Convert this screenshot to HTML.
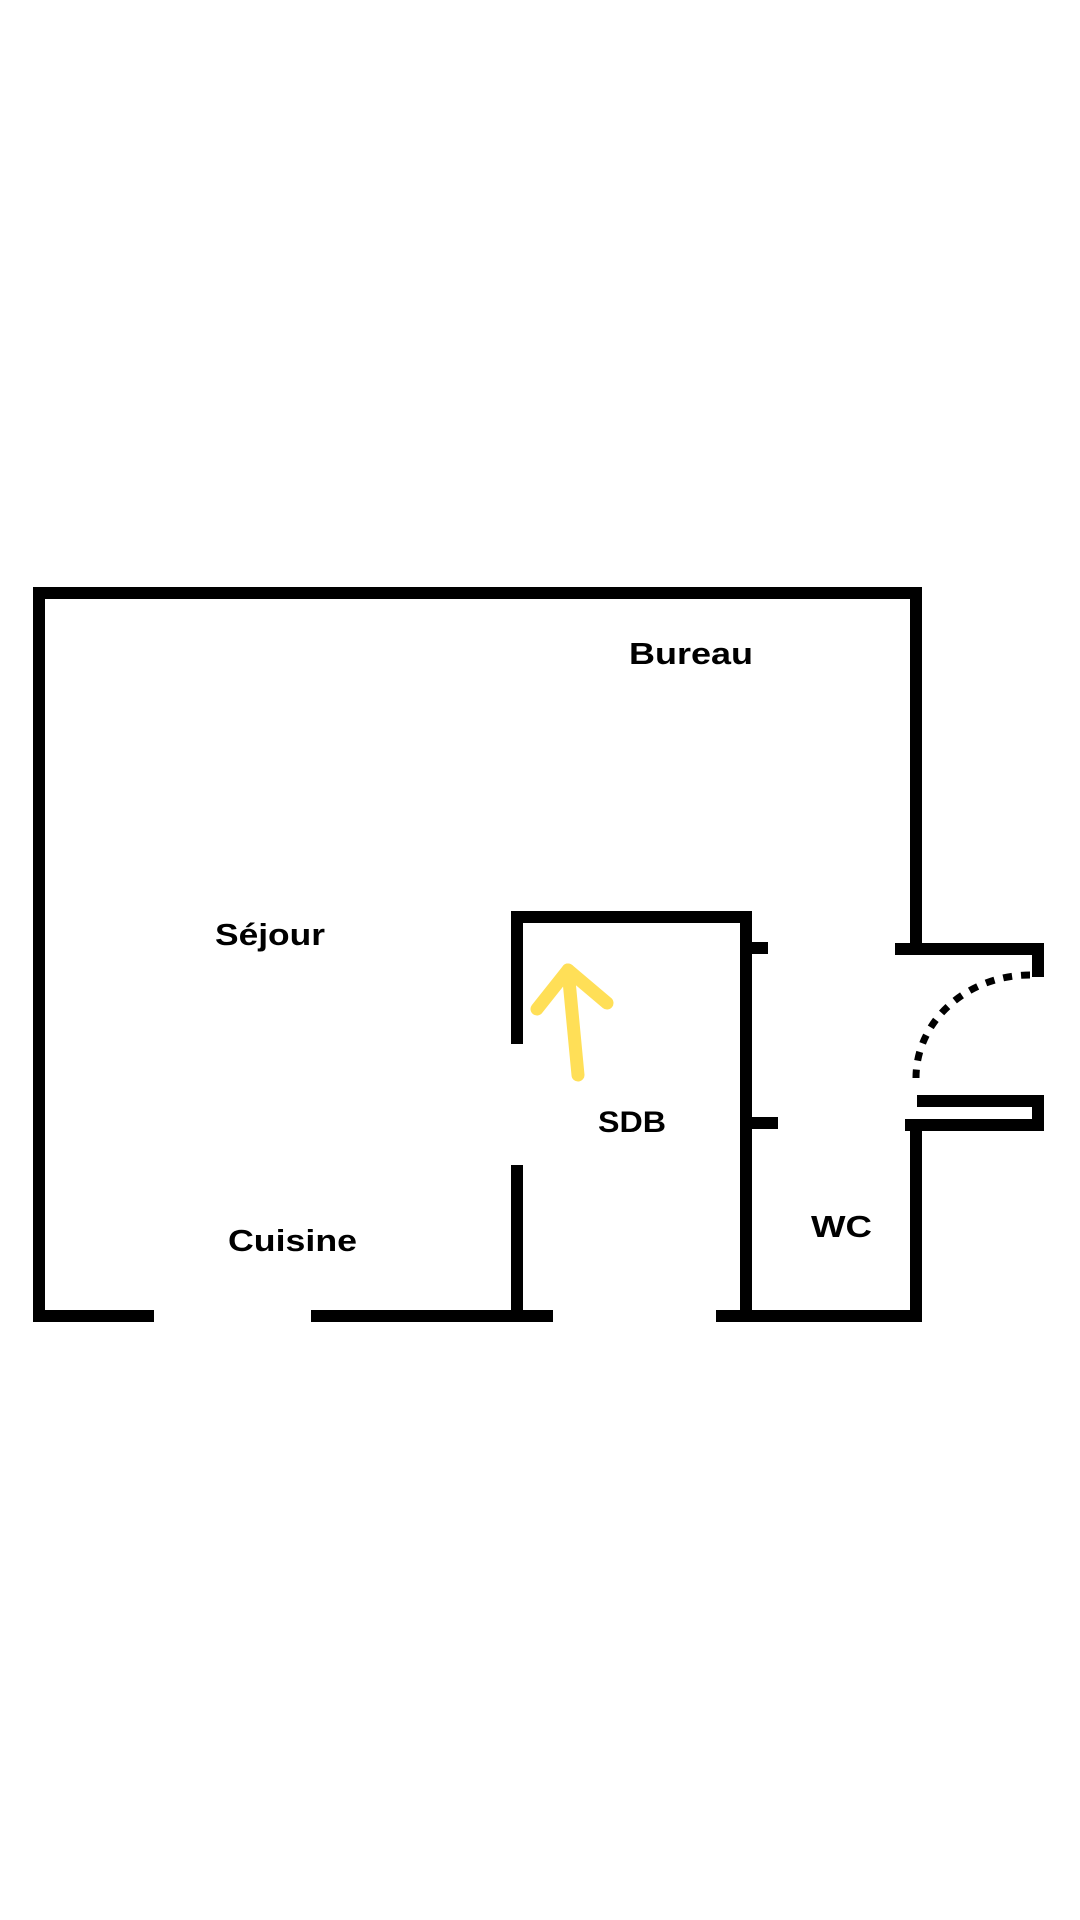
<!DOCTYPE html>
<html><head><meta charset="utf-8"><style>
html,body{margin:0;padding:0;background:#fff;}
svg{display:block;}
text{font-family:"Liberation Sans",sans-serif;font-weight:bold;fill:#000;}
</style></head><body>
<svg width="1080" height="1920" viewBox="0 0 1080 1920" xmlns="http://www.w3.org/2000/svg">
<rect width="1080" height="1920" fill="#fff"/>
<g stroke="#000" stroke-width="12" fill="none" stroke-linecap="butt">
<polyline points="154,1316 39,1316 39,593 916,593 916,943"/>
<line x1="311" y1="1316" x2="553" y2="1316"/>
<polyline points="716,1316 916,1316 916,1125"/>
<polyline points="517,1044 517,917 746,917 746,1316"/>
<line x1="517" y1="1165" x2="517" y2="1316"/>
<line x1="746" y1="948" x2="768" y2="948"/>
<line x1="746" y1="1123" x2="778" y2="1123"/>
<polyline points="895,949 1038,949 1038,977"/>
<polyline points="917,1101 1038,1101 1038,1125 905,1125"/>
</g>
<path d="M1030,975 A114,103 0 0 0 916,1078" stroke="#000" stroke-width="7" fill="none" stroke-dasharray="9,9"/>
<g stroke="#FFDF57" stroke-width="13" fill="none" stroke-linecap="round" stroke-linejoin="round">
<line x1="578" y1="1075" x2="568" y2="970"/>
<polyline points="537,1009 568,970 607,1003"/>
</g>
<text x="629" y="664" font-size="31" textLength="124" lengthAdjust="spacingAndGlyphs">Bureau</text>
<text x="215" y="945" font-size="31" textLength="110" lengthAdjust="spacingAndGlyphs">Séjour</text>
<text x="598" y="1132" font-size="30" textLength="68" lengthAdjust="spacingAndGlyphs">SDB</text>
<text x="228" y="1251" font-size="31" textLength="129" lengthAdjust="spacingAndGlyphs">Cuisine</text>
<text x="811" y="1237" font-size="31" textLength="61" lengthAdjust="spacingAndGlyphs">WC</text>
</svg>
</body></html>
